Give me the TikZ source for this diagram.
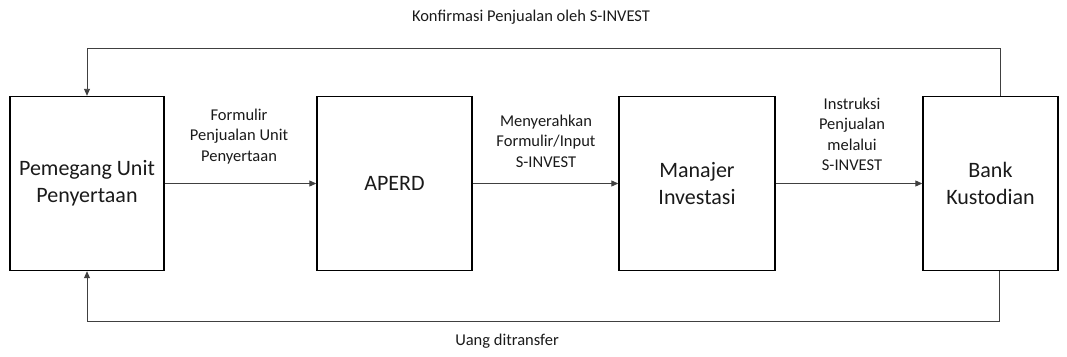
\documentclass[tikz,border=0pt]{standalone}
\usepackage{fontspec}
\setmainfont{Carlito}
\usetikzlibrary{arrows.meta}
\definecolor{linegray}{HTML}{404040}
\definecolor{txt}{HTML}{1A1A1A}
\tikzset{
  box/.style={draw=black, line width=1.4pt, minimum height=174pt, inner sep=0pt, align=center, text=txt, font=\fontsize{22}{27}\selectfont},
  lbl/.style={align=center, text=txt, inner sep=0pt, font=\fontsize{16.5}{20.5}\selectfont},
  arr/.style={draw=linegray, line width=0.9pt, -{Triangle[length=7pt,width=6pt]}}
}
\begin{document}
\begin{tikzpicture}[x=1pt,y=-1pt]
\useasboundingbox (0,0) rectangle (1067,356);
\node[box, minimum width=154pt] (b1) at (87,183.5) {Pemegang Unit\\Penyertaan};
\node[box, minimum width=155pt] (b2) at (394.5,183.5) {APERD};
\node[box, minimum width=156pt] (b3) at (697,183.5) {Manajer\\Investasi};
\node[box, minimum width=135pt] (b4) at (990.5,183.5) {Bank\\Kustodian};
\coordinate (topy) at (0,48);
\coordinate (boty) at (0,321);
\draw[arr] (b1) -- (b2);
\draw[arr] (b2) -- (b3);
\draw[arr] (b3) -- (b4);
\draw[arr] ([xshift=9.5pt]b4.north) -- ([xshift=9.5pt]b4.north |- topy) -| (b1.north);
\draw[arr] ([xshift=9pt]b4.south) -- ([xshift=9pt]b4.south |- boty) -| (b1.south);
\node[lbl] (l1) at (239,136.5) {Formulir\\Penjualan Unit\\Penyertaan};
\node[lbl] (l2) at (546,141) {Menyerahkan\\Formulir/Input\\S-INVEST};
\node[lbl] (l3) at (852,134.5) {Instruksi\\Penjualan\\melalui\\S-INVEST};
\node[lbl] (lt) at (531,17) {Konfirmasi Penjualan oleh S-INVEST};
\node[lbl] (lb) at (507,341) {Uang ditransfer};
\end{tikzpicture}
\end{document}
